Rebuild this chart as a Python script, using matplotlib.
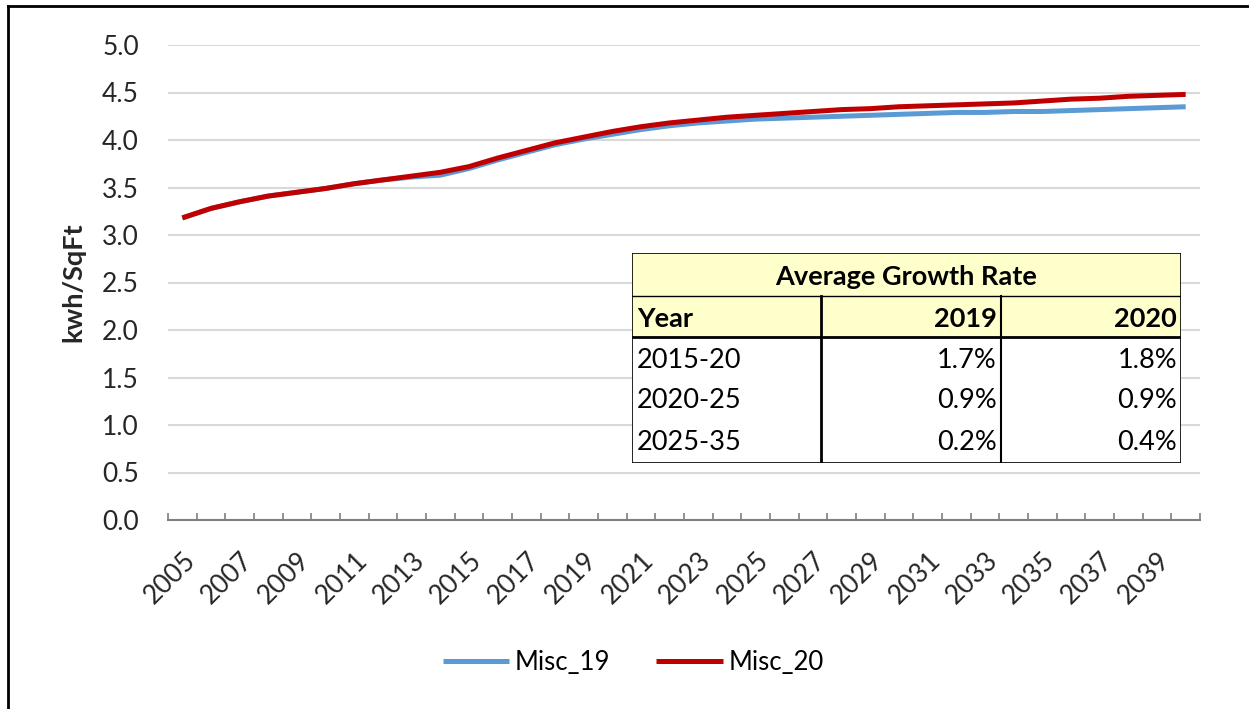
import numpy as np
import matplotlib
matplotlib.use("Agg")
import matplotlib.pyplot as plt
from matplotlib.patches import Rectangle
from matplotlib.lines import Line2D

plt.rcParams['font.family'] = ['Lato', 'DejaVu Sans']

years = list(range(2005, 2041))
misc_19 = [3.18, 3.28, 3.35, 3.41, 3.45, 3.49, 3.54, 3.58, 3.61, 3.63,
           3.70, 3.79, 3.87, 3.95, 4.01, 4.06, 4.11, 4.15, 4.18, 4.20,
           4.22, 4.23, 4.24, 4.25, 4.26, 4.27, 4.28, 4.29, 4.29, 4.30,
           4.30, 4.31, 4.32, 4.33, 4.34, 4.35]
misc_20 = [3.18, 3.28, 3.35, 3.41, 3.45, 3.49, 3.54, 3.58, 3.62, 3.66,
           3.72, 3.81, 3.89, 3.97, 4.03, 4.09, 4.14, 4.18, 4.21, 4.24,
           4.26, 4.28, 4.30, 4.32, 4.33, 4.35, 4.36, 4.37, 4.38, 4.39,
           4.41, 4.43, 4.44, 4.46, 4.47, 4.48]

table_title = "Average Growth Rate"
table_header = ["Year", "2019", "2020"]
periods = ["2015-20", "2020-25", "2025-35"]
rate_19 = ["1.7%", "0.9%", "0.2%"]
rate_20 = ["1.8%", "0.9%", "0.4%"]

W, H = 1249, 709
fig = plt.figure(figsize=(W / 100, H / 100), dpi=100)
fig.patch.set_facecolor('white')

# border (top and left visible)
fig.add_artist(Line2D([8 / W, 8 / W], [0, 1 - 6 / H], transform=fig.transFigure, color='black', lw=2))
fig.add_artist(Line2D([8 / W, 1], [1 - 6 / H, 1 - 6 / H], transform=fig.transFigure, color='black', lw=2))

ax = fig.add_axes([168 / W, 1 - 520 / H, (1200 - 168) / W, (520 - 45) / H])
x = np.arange(len(years))
ax.plot(x, misc_19, color='#5B9BD5', lw=3.6, label='Misc_19', solid_capstyle='butt')
ax.plot(x, misc_20, color='#C00000', lw=3.6, label='Misc_20', solid_capstyle='butt')

ax.set_xlim(-0.5, len(years) - 0.5)
ax.set_ylim(0, 5)
ax.set_yticks(np.arange(0, 5.01, 0.5))
ax.set_yticklabels([f"{v:.1f}" for v in np.arange(0, 5.01, 0.5)])
ax.grid(axis='y', color='#D9D9D9', lw=1.5)
ax.set_axisbelow(True)
for s in ['top', 'right', 'left']:
    ax.spines[s].set_visible(False)
ax.spines['bottom'].set_color('#7F7F7F')
ax.spines['bottom'].set_linewidth(1.5)

ax.set_xticks(x[::2])
ax.set_xticklabels([str(y) for y in years[::2]], rotation=45, ha='right', rotation_mode='anchor')
ax.set_xticks(np.arange(-0.5, len(years)), minor=True)
ax.tick_params(axis='x', which='major', length=0, pad=20, labelsize=19, colors='#262626')
ax.tick_params(axis='x', which='minor', length=5, direction='in', color='#7F7F7F', width=1.2)
ax.tick_params(axis='y', length=0, pad=21, labelsize=19, colors='#262626')
ax.set_ylabel("kwh/SqFt", fontsize=19.5, fontweight='bold', labelpad=12, color='#262626')

fig.legend(loc='center', bbox_to_anchor=(633 / W, 1 - 662 / H), ncol=2, frameon=False,
           fontsize=18.5, handlelength=2.6, handletextpad=0.2, columnspacing=1.8)

# growth rate table
tax = fig.add_axes([632 / W, 1 - 463 / H, (1181 - 632) / W, (463 - 253) / H])
tax.set_xlim(632, 1181)
tax.set_ylim(463, 253)
tax.axis('off')
yellow = '#FFFFCC'
tax.add_patch(Rectangle((632, 253), 549, 84, facecolor=yellow, edgecolor='none'))
tax.add_patch(Rectangle((632, 337), 549, 126, facecolor='white', edgecolor='none'))
tax.add_patch(Rectangle((632, 253), 549, 210, fill=False, edgecolor='black', lw=1.2))
tax.plot([632, 1181], [296, 296], color='black', lw=1.0)
tax.plot([632, 1181], [337, 337], color='black', lw=2.0)
tax.plot([821, 821], [296, 463], color='black', lw=2.0)
tax.plot([1001, 1001], [296, 463], color='black', lw=1.5)

fs = 19.5
tax.text(906, 277, table_title, ha='center', va='center', fontsize=fs, fontweight='bold')
tax.text(637, 319, table_header[0], ha='left', va='center', fontsize=fs, fontweight='bold')
tax.text(997, 319, table_header[1], ha='right', va='center', fontsize=fs, fontweight='bold')
tax.text(1177, 319, table_header[2], ha='right', va='center', fontsize=fs, fontweight='bold')
row_y = [360, 401, 443]
for i in range(len(periods)):
    tax.text(637, row_y[i], periods[i], ha='left', va='center', fontsize=fs)
    tax.text(997, row_y[i], rate_19[i], ha='right', va='center', fontsize=fs)
    tax.text(1177, row_y[i], rate_20[i], ha='right', va='center', fontsize=fs)

fig.savefig("out.png", dpi=100)
